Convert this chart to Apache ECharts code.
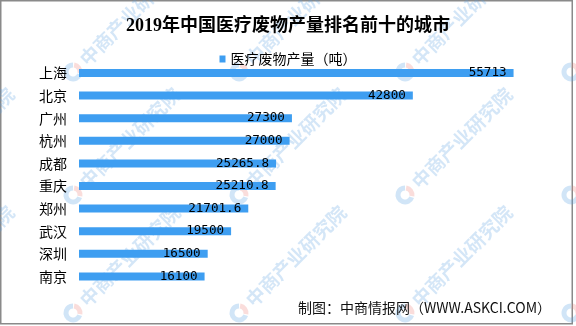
<!DOCTYPE html>
<html>
<head>
<meta charset="utf-8">
<script src="https://cdn.jsdelivr.net/npm/echarts@6/dist/echarts.min.js"></script>
<style>
html,body{margin:0;padding:0;background:#fff;}
#c{width:576px;height:326px;}
</style>
</head>
<body>
<div id="c"></div>
<script>
var titleText = '2019年中国医疗废物产量排名前十的城市';
var seriesName = '医疗废物产量（吨）';
var categories = ['上海', '北京', '广州', '杭州', '成都', '重庆', '郑州', '武汉', '深圳', '南京'];
var values = [55713, 42800, 27300, 27000, 25265.8, 25210.8, 21701.6, 19500, 16500, 16100];
var sourceText = '制图：中商情报网（WWW.ASKCI.COM）';
var watermarkText = '中商产业研究院';

var chart = echarts.init(document.getElementById('c'), null, {renderer: 'canvas'});

var graphics = [];
// border
graphics.push({
  type: 'rect', z: 0, silent: true,
  shape: {x: 0.75, y: 0.75, width: 571.5, height: 323},
  style: {fill: 'none', stroke: '#8a8a8a', lineWidth: 1.5}
});
// source text
graphics.push({
  type: 'text', z: 10, silent: true,
  x: 551, y: 308,
  style: {
    text: sourceText, fill: '#111',
    font: '14px "Noto Sans CJK SC", sans-serif',
    align: 'right', verticalAlign: 'middle'
  }
});
// watermarks
var rowsY = [72, 195, 313];
for (var r = 0; r < rowsY.length; r++) {
  for (var k = -1; k <= 3; k++) {
    var lx = 73 + 166 * k;
    graphics.push({
      type: 'group', z: 100, silent: true,
      x: lx, y: rowsY[r], rotation: Math.PI / 4,
      children: [
        {type: 'arc', silent: true, shape: {cx: 0, cy: 0, r: 7, startAngle: Math.PI * 0.35, endAngle: Math.PI * 1.75},
         style: {stroke: 'rgba(90,160,225,0.28)', lineWidth: 5, fill: 'none'}},
        {type: 'arc', silent: true, shape: {cx: 0, cy: 0, r: 7, startAngle: Math.PI * 1.8, endAngle: Math.PI * 2.3},
         style: {stroke: 'rgba(235,120,110,0.25)', lineWidth: 5, fill: 'none'}},
        {type: 'text', silent: true, x: 14, y: 0,
         style: {text: watermarkText, fill: 'rgba(90,160,225,0.26)',
                 font: 'bold 19px "Noto Sans CJK SC", sans-serif',
                 align: 'left', verticalAlign: 'middle'}}
      ]
    });
  }
}

var option = {
  backgroundColor: '#fff',
  animation: false,
  title: {
    text: titleText, left: 'center', top: 12,
    textStyle: {fontSize: 18, fontWeight: 'bold', color: '#000',
                fontFamily: '"Liberation Serif", "Noto Sans CJK SC", serif'}
  },
  legend: {
    data: [seriesName], left: 'center', top: 47,
    icon: 'rect', itemWidth: 6, itemHeight: 7, itemGap: 10,
    textStyle: {fontSize: 14, color: '#000', fontFamily: '"Noto Sans CJK SC", sans-serif'}
  },
  grid: {left: 79, right: 29, top: 61.7, bottom: 38.3, containLabel: false},
  xAxis: {
    type: 'value', min: 0, max: 60000, show: false,
    splitLine: {show: false}
  },
  yAxis: {
    type: 'category', data: categories, inverse: true,
    axisLine: {show: false}, axisTick: {show: false}, splitLine: {show: false},
    axisLabel: {fontSize: 14, color: '#000', margin: 12,
                fontFamily: '"Noto Sans CJK SC", sans-serif'}
  },
  series: [{
    name: seriesName, type: 'bar', data: values, barWidth: 8,
    itemStyle: {color: '#3e9ef1'},
    label: {
      show: true, position: 'insideRight', distance: 7,
      color: '#000', fontSize: 12.6,
      fontFamily: '"DejaVu Sans Mono", monospace'
    }
  }],
  graphic: graphics
};
chart.setOption(option);
</script>
</body>
</html>
